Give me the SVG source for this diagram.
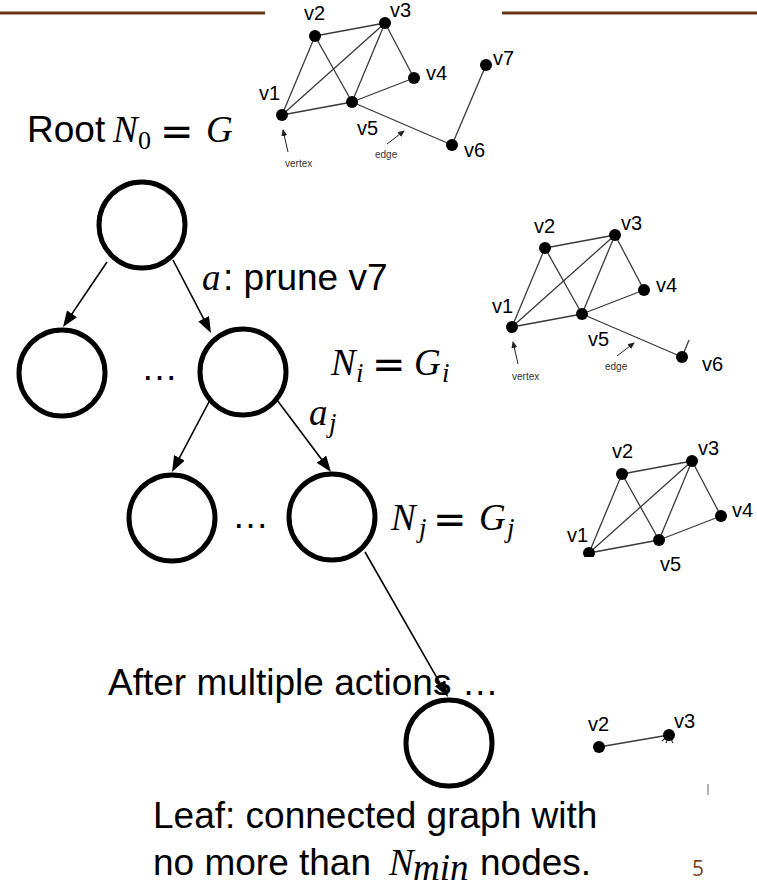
<svg xmlns="http://www.w3.org/2000/svg" width="757" height="887" viewBox="0 0 757 887">
  <defs>
    <style>
      .tn { fill: none; stroke: #000; stroke-width: 5; }
      .conn { stroke: #000; stroke-width: 1.6; fill: none; marker-end: url(#head); }
      .txt { font-family: "Liberation Sans", Arial, sans-serif; font-size: 37px; fill: #000; }
      .math { font-family: "Liberation Serif", "DejaVu Serif", serif; font-style: italic; font-size: 37px; fill: #000; }
      .up { font-family: "Liberation Serif", "DejaVu Serif", serif; font-size: 26px; fill: #000; }
      .sub { font-size: 27px; }
      .eq { font-family: "DejaVu Sans", sans-serif; font-size: 40px; fill: #000; }
      .e { stroke: #3a3a3a; stroke-width: 1.3; fill: none; }
      .v { fill: #000; }
      .vl { font-family: "Liberation Sans", Arial, sans-serif; font-size: 20px; fill: #000; }
      .note { font-family: "Liberation Sans", Arial, sans-serif; font-size: 10px; fill: #333; }
      .pt { stroke: #222; stroke-width: 1; fill: none; marker-end: url(#tiny); }
      .rule { stroke: #6a3513; stroke-width: 3; }
    </style>
    <marker id="head" markerUnits="userSpaceOnUse" markerWidth="16" markerHeight="12" refX="8" refY="6" orient="auto">
      <path d="M0,0 L16,6 L0,12 Z" fill="#000"/>
    </marker>
    <marker id="tiny" markerUnits="userSpaceOnUse" markerWidth="7" markerHeight="6" refX="6" refY="3" orient="auto">
      <path d="M0,0 L7,3 L0,6 Z" fill="#222"/>
    </marker>
    <clipPath id="cut3">
      <rect x="540" y="420" width="217" height="137"/>
    </clipPath>
  </defs>

  <!-- header rules -->
  <line class="rule" x1="0" y1="13" x2="265" y2="13"/>
  <line class="rule" x1="502" y1="13" x2="757" y2="13"/>

  <!-- full graph G -->
  <g id="graph-g">
    <g class="e">
      <line x1="282" y1="115" x2="315" y2="36"/>
      <line x1="282" y1="115" x2="385" y2="23"/>
      <line x1="282" y1="115" x2="352" y2="102"/>
      <line x1="315" y1="36" x2="385" y2="23"/>
      <line x1="315" y1="36" x2="352" y2="102"/>
      <line x1="385" y1="23" x2="352" y2="102"/>
      <line x1="385" y1="23" x2="414" y2="78"/>
      <line x1="352" y1="102" x2="414" y2="78"/>
      <line x1="352" y1="102" x2="452" y2="145"/>
      <line x1="452" y1="145" x2="486" y2="65"/>
    </g>
    <g class="v">
      <circle cx="282" cy="115" r="6"/>
      <circle cx="315" cy="36" r="6"/>
      <circle cx="385" cy="23" r="6"/>
      <circle cx="414" cy="78" r="6"/>
      <circle cx="352" cy="102" r="6"/>
      <circle cx="452" cy="145" r="6"/>
      <circle cx="486" cy="65" r="6"/>
    </g>
    <text class="vl" x="259" y="100">v1</text>
    <text class="vl" x="304" y="20">v2</text>
    <text class="vl" x="390" y="17">v3</text>
    <text class="vl" x="426" y="80">v4</text>
    <text class="vl" x="357" y="135">v5</text>
    <text class="vl" x="464" y="157">v6</text>
    <text class="vl" x="493" y="65">v7</text>
    <line class="pt" x1="288" y1="152" x2="283" y2="130"/>
    <text class="note" x="285" y="167">vertex</text>
    <line class="pt" x1="387" y1="144" x2="404" y2="131"/>
    <text class="note" x="375" y="158">edge</text>
  </g>

  <!-- graph G_i (v7 pruned) -->
  <g id="graph-gi" transform="translate(230,212)">
    <g class="e">
      <line x1="282" y1="115" x2="315" y2="36"/>
      <line x1="282" y1="115" x2="385" y2="23"/>
      <line x1="282" y1="115" x2="352" y2="102"/>
      <line x1="315" y1="36" x2="385" y2="23"/>
      <line x1="315" y1="36" x2="352" y2="102"/>
      <line x1="385" y1="23" x2="352" y2="102"/>
      <line x1="385" y1="23" x2="414" y2="78"/>
      <line x1="352" y1="102" x2="414" y2="78"/>
      <line x1="352" y1="102" x2="452" y2="145"/>
      <line x1="452" y1="145" x2="459" y2="128"/>
    </g>
    <g class="v">
      <circle cx="282" cy="115" r="6"/>
      <circle cx="315" cy="36" r="6"/>
      <circle cx="385" cy="23" r="6"/>
      <circle cx="414" cy="78" r="6"/>
      <circle cx="352" cy="102" r="6"/>
      <circle cx="452" cy="145" r="6"/>
    </g>
    <text class="vl" x="262" y="101">v1</text>
    <text class="vl" x="304" y="21">v2</text>
    <text class="vl" x="391" y="18">v3</text>
    <text class="vl" x="426" y="80">v4</text>
    <text class="vl" x="358" y="134">v5</text>
    <text class="vl" x="472" y="159">v6</text>
    <line class="pt" x1="288" y1="152" x2="283" y2="130"/>
    <text class="note" x="282" y="168">vertex</text>
    <line class="pt" x1="387" y1="144" x2="404" y2="131"/>
    <text class="note" x="375" y="158">edge</text>
  </g>

  <!-- graph G_j -->
  <g id="graph-gj">
    <g clip-path="url(#cut3)">
      <g class="e">
        <line x1="589" y1="553" x2="622" y2="474"/>
        <line x1="589" y1="553" x2="692" y2="461"/>
        <line x1="589" y1="553" x2="659" y2="540"/>
        <line x1="622" y1="474" x2="692" y2="461"/>
        <line x1="622" y1="474" x2="659" y2="540"/>
        <line x1="692" y1="461" x2="659" y2="540"/>
        <line x1="692" y1="461" x2="721" y2="516"/>
        <line x1="659" y1="540" x2="721" y2="516"/>
      </g>
      <g class="v">
        <circle cx="589" cy="553" r="6"/>
        <circle cx="622" cy="474" r="6"/>
        <circle cx="692" cy="461" r="6"/>
        <circle cx="721" cy="516" r="6"/>
        <circle cx="659" cy="540" r="6"/>
      </g>
    </g>
    <text class="vl" x="567" y="542">v1</text>
    <text class="vl" x="612" y="458">v2</text>
    <text class="vl" x="698" y="455">v3</text>
    <text class="vl" x="732" y="517">v4</text>
    <text class="vl" x="660" y="571">v5</text>
  </g>

  <!-- leaf graph -->
  <g id="graph-leaf">
    <g class="e">
      <line x1="599" y1="747" x2="669" y2="735"/>
      <line x1="669" y1="735" x2="662" y2="741"/>
      <line x1="669" y1="735" x2="666" y2="743"/>
      <line x1="669" y1="735" x2="673" y2="743"/>
      <line x1="708" y1="784" x2="708" y2="795" stroke="#888"/>
    </g>
    <g class="v">
      <circle cx="599" cy="747" r="6"/>
      <circle cx="669" cy="735" r="6"/>
    </g>
    <text class="vl" x="588" y="731">v2</text>
    <text class="vl" x="674" y="728">v3</text>
  </g>

  <!-- search tree nodes -->
  <g id="n-root"><circle class="tn" cx="142" cy="225" r="43"/></g>
  <g id="n-l1a"><circle class="tn" cx="62" cy="373" r="43"/></g>
  <g id="n-l1b"><circle class="tn" cx="243" cy="372" r="43"/></g>
  <g id="n-l2a"><circle class="tn" cx="172" cy="518" r="43"/></g>
  <g id="n-l2b"><circle class="tn" cx="332" cy="517" r="43"/></g>
  <g id="n-leaf"><circle class="tn" cx="449" cy="743" r="43"/></g>

  <!-- connectors -->
  <g id="connectors">
    <line class="conn" x1="107" y1="262" x2="67.5" y2="320.4"/>
    <line class="conn" x1="173" y1="260" x2="207.3" y2="325.9"/>
    <line class="conn" x1="210" y1="400" x2="175.7" y2="464.9"/>
    <line class="conn" x1="277" y1="400" x2="326.2" y2="465.6"/>
    <line class="conn" x1="365" y1="552" x2="444" y2="690.1"/>
  </g>

  <!-- labels -->
  <g id="labels">
    <text class="txt" x="27" y="142">Root</text>
    <text class="math" x="113" y="142">N</text>
    <text class="up" x="138" y="149">0</text>
    <text class="eq" x="160" y="145">=</text>
    <text class="math" x="206" y="142">G</text>

    <text class="math" x="202" y="290">a</text>
    <text class="txt" x="223" y="290">: prune v7</text>

    <text class="txt" x="141" y="380">…</text>
    <text class="math" x="331" y="375">N</text>
    <text class="math sub" x="356" y="382">i</text>
    <text class="eq" x="372" y="378">=</text>
    <text class="math" x="414" y="375">G</text>
    <text class="math sub" x="442" y="382">i</text>

    <text class="math" x="309" y="425">a</text>
    <text class="math sub" x="329" y="432">j</text>

    <text class="txt" x="232" y="528">…</text>
    <text class="math" x="391" y="530">N</text>
    <text class="math sub" x="419" y="537">j</text>
    <text class="eq" x="433" y="533">=</text>
    <text class="math" x="479" y="530">G</text>
    <text class="math sub" x="507" y="537">j</text>

    <text class="txt" x="108" y="695">After multiple actions …</text>

    <text class="txt" x="153" y="828">Leaf: connected graph with</text>
    <text class="txt" x="153" y="875">no more than</text>
    <text class="math" x="389" y="875">N</text>
    <text class="math" x="413" y="880" font-size="27">min</text>
    <text class="txt" x="480" y="875">nodes.</text>

    <text x="692" y="876" font-family="'Open Sans', sans-serif" font-size="21" fill="#7a4a1f">5</text>
  </g>
</svg>
